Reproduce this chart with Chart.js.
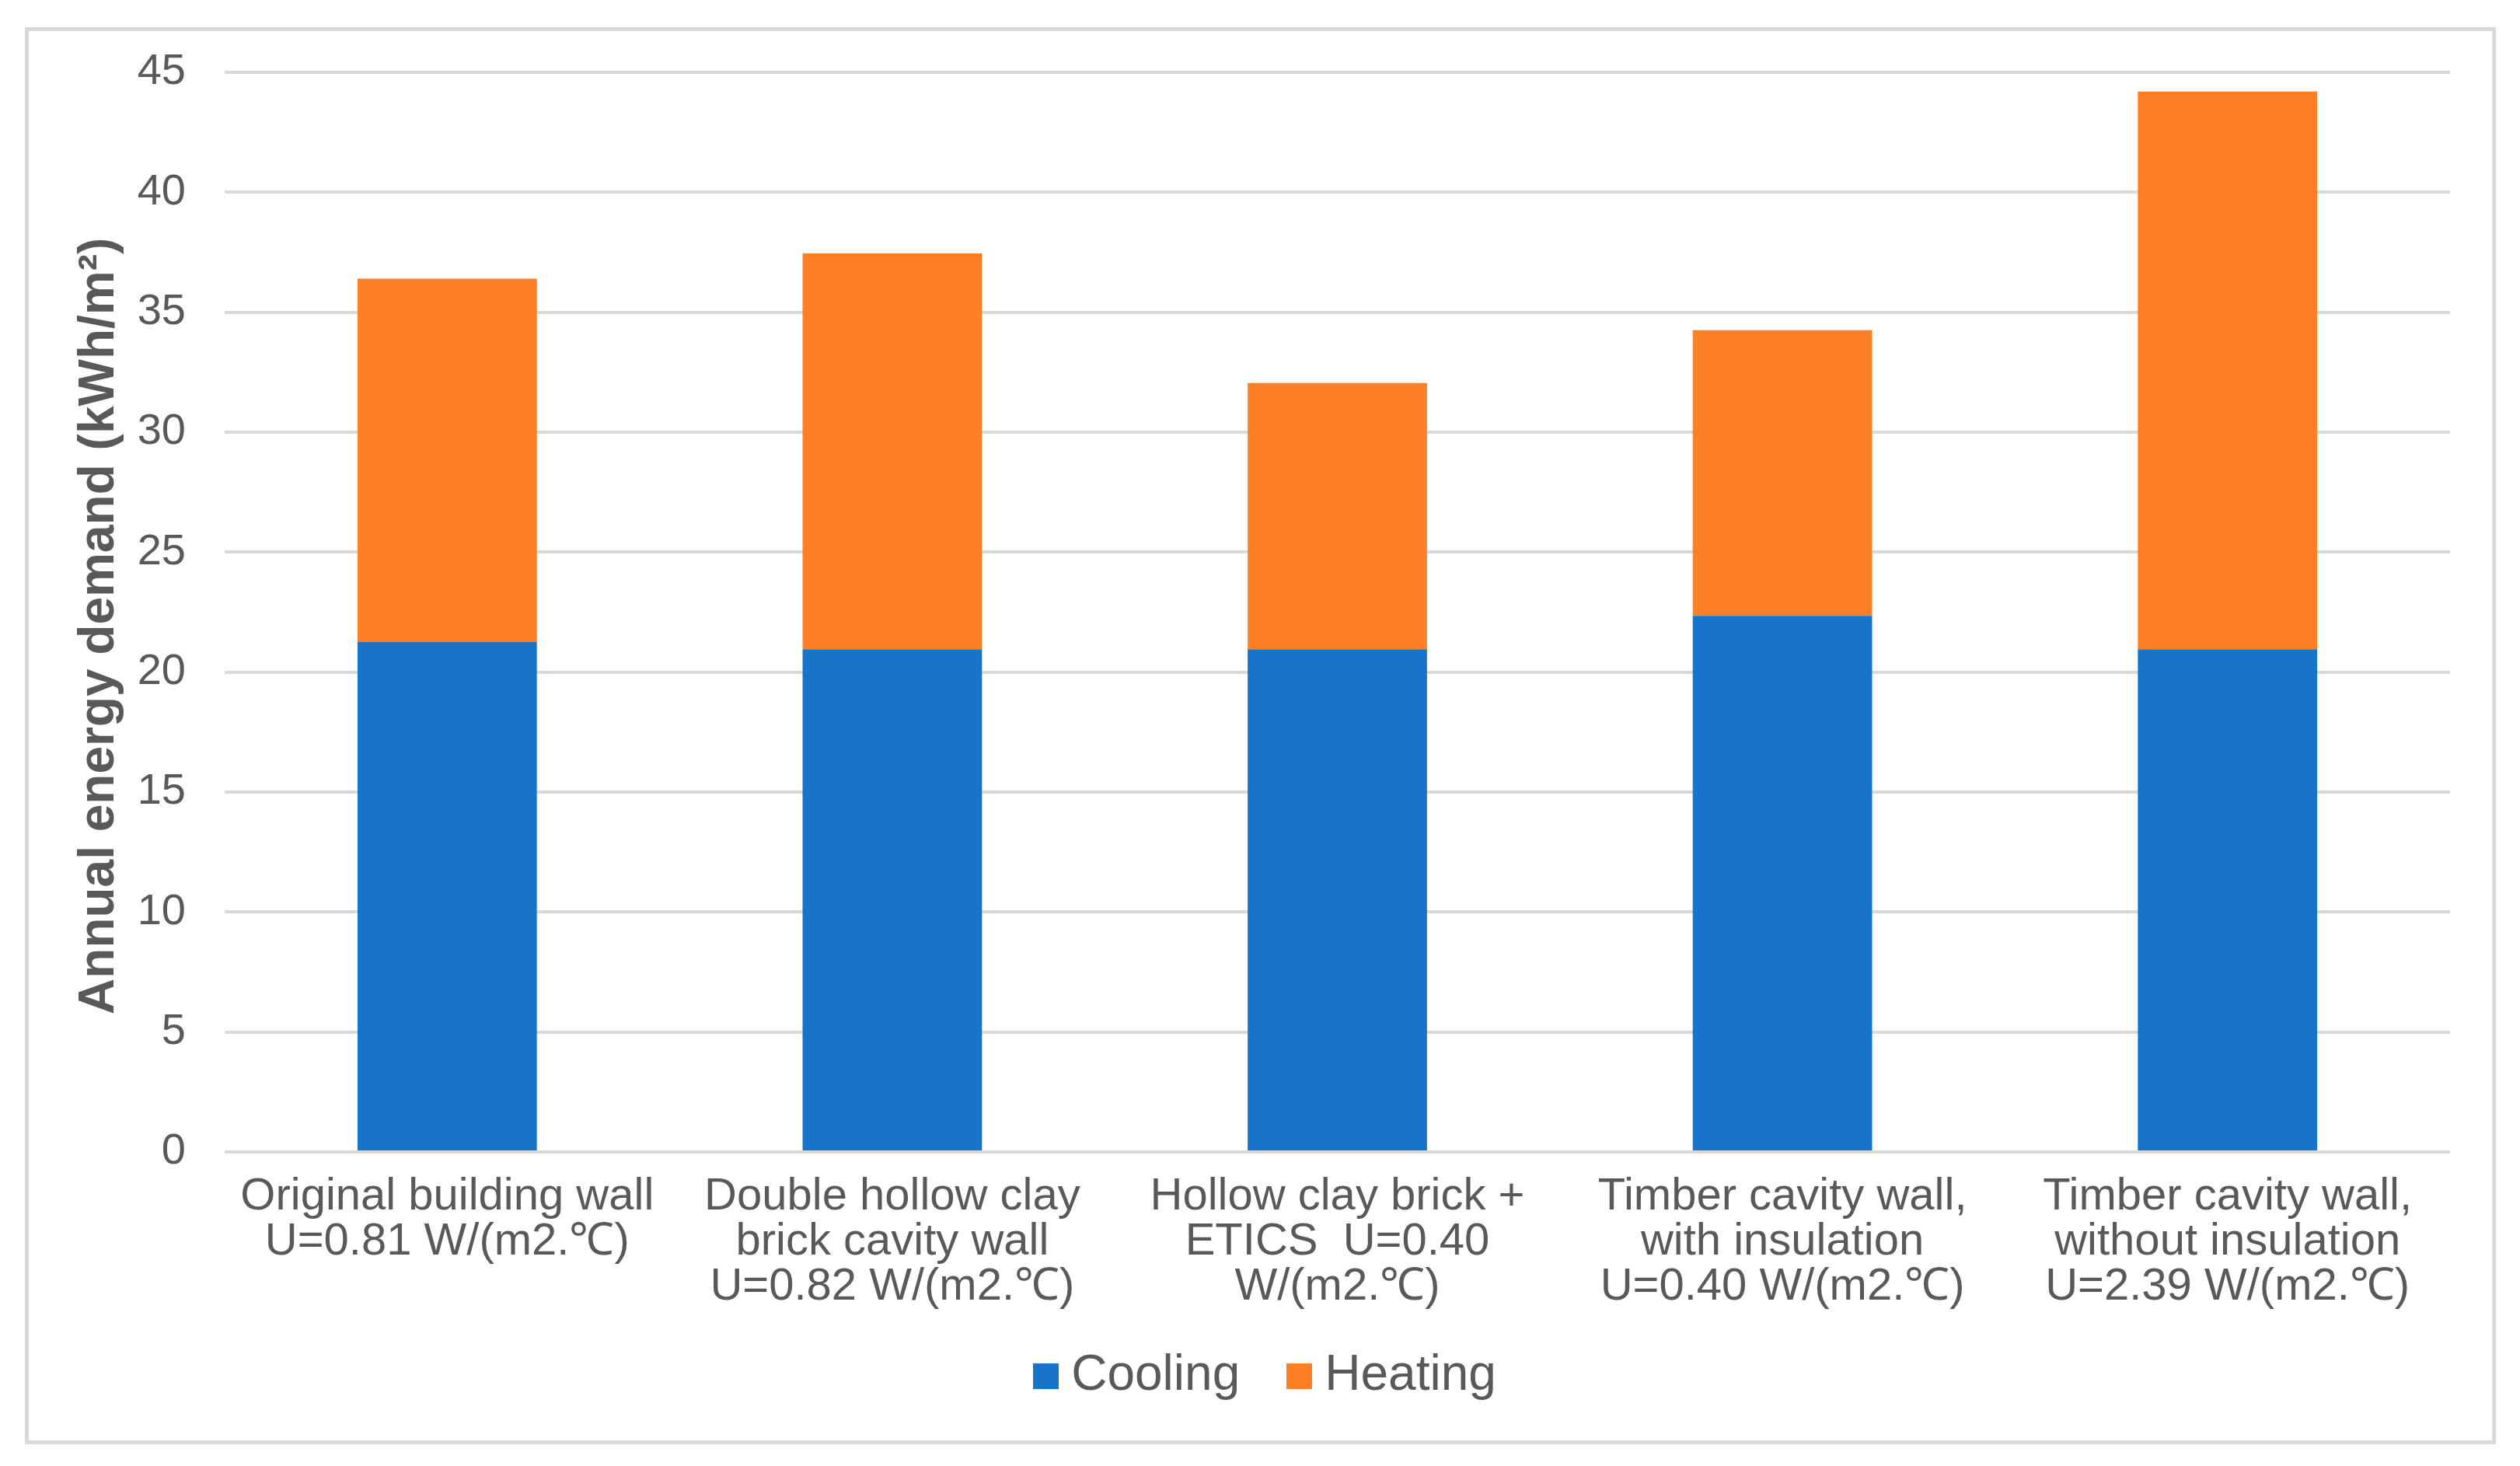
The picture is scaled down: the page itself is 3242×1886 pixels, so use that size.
<!DOCTYPE html>
<html>
<head>
<meta charset="utf-8">
<script src="https://cdn.jsdelivr.net/npm/chart.js@4"></script>
<style>
  html, body { margin: 0; padding: 0; background: #fff; }
  #chart { display: block; }
</style>
</head>
<body>
<canvas id="chart" width="3242" height="1886"></canvas>
<script>
// wall types on the x axis
const wallLabels = [
    ['Original building wall', 'U=0.81 W/(m2.℃)'],
    ['Double hollow clay', 'brick cavity wall', 'U=0.82 W/(m2.℃)'],
    ['Hollow clay brick +', 'ETICS  U=0.40', 'W/(m2.℃)'],
    ['Timber cavity wall,', 'with insulation', 'U=0.40 W/(m2.℃)'],
    ['Timber cavity wall,', 'without insulation', 'U=2.39 W/(m2.℃)']
];

// kWh/m2
const cooling = [21.25, 20.95, 20.95, 22.35, 20.95];
const heating = [15.15, 16.5, 11.1, 11.9, 23.25];

const yTicks = { min: 0, max: 45, step: 5 };

const seriesColors = ['#1874C9', '#FF7F27'];
const textColor = '#595959';
const gridColor = '#d9d9d9';
const fontFamily = '"Liberation Sans", Arial, Helvetica, sans-serif';

// small square swatches for the legend (lets the text sit close to the box)
const swatches = seriesColors.map(c => {
    const cv = document.createElement('canvas');
    cv.width = 33;
    cv.height = 33;
    const g = cv.getContext('2d');
    g.fillStyle = c;
    g.fillRect(0, 0, 33, 33);
    return cv;
});

// light grey frame round the whole chart, legend nudged to where Excel puts it
const framePlugin = {
    id: 'frame',
    afterLayout(chart) {
        const lg = chart.legend;
        lg.left += 43;
        lg.right += 43;
        lg.top -= 56;
        lg.bottom -= 56;
    },
    beforeDraw(chart) {
        const ctx = chart.ctx;
        ctx.save();
        ctx.fillStyle = '#ffffff';
        ctx.fillRect(0, 0, chart.width, chart.height);
        ctx.strokeStyle = gridColor;
        ctx.lineWidth = 5;
        ctx.strokeRect(34.5, 37.5, 3174, 1818);
        ctx.restore();
    }
};

const ctx = document.getElementById('chart').getContext('2d');
new Chart(ctx, {
    type: 'bar',
    data: {
        labels: wallLabels,
        datasets: [
            {
                label: 'Cooling',
                data: cooling,
                backgroundColor: seriesColors[0],
                barPercentage: 0.403,
                categoryPercentage: 1
            },
            {
                label: 'Heating',
                data: heating,
                backgroundColor: seriesColors[1],
                barPercentage: 0.403,
                categoryPercentage: 1
            }
        ]
    },
    options: {
        responsive: false,
        animation: false,
        devicePixelRatio: 1,
        layout: {
            padding: { top: 93, left: 32, right: 90, bottom: 18 }
        },
        plugins: {
            legend: {
                position: 'bottom',
                labels: {
                    color: textColor,
                    font: { family: fontFamily, size: 64 },
                    usePointStyle: true,
                    boxWidth: 1,
                    boxHeight: 33,
                    padding: 76,
                    generateLabels(chart) {
                        const items = Chart.defaults.plugins.legend.labels.generateLabels(chart);
                        items.forEach((it, i) => { it.pointStyle = swatches[i]; });
                        return items;
                    }
                }
            },
            tooltip: { enabled: false }
        },
        scales: {
            x: {
                stacked: true,
                grid: { display: false, drawTicks: false },
                border: { display: false },
                ticks: {
                    color: textColor,
                    font: { family: fontFamily, size: 58, lineHeight: 1.0 },
                    padding: 29,
                    maxRotation: 0,
                    autoSkip: false
                },
                afterFit(scale) { scale.height = 236; }
            },
            y: {
                stacked: true,
                min: yTicks.min,
                max: yTicks.max,
                grid: { color: gridColor, lineWidth: 4, drawTicks: false },
                border: { display: false },
                ticks: {
                    stepSize: yTicks.step,
                    color: textColor,
                    font: { family: fontFamily, size: 56 },
                    padding: 50
                },
                title: {
                    display: true,
                    text: 'Annual energy demand (kWh/m²)  ',
                    color: textColor,
                    font: { family: fontFamily, size: 64, weight: 'bold' },
                    padding: { top: 58, bottom: 0 }
                },
                afterFit(scale) { scale.width = 257; }
            }
        }
    },
    plugins: [framePlugin]
});
</script>
</body>
</html>
